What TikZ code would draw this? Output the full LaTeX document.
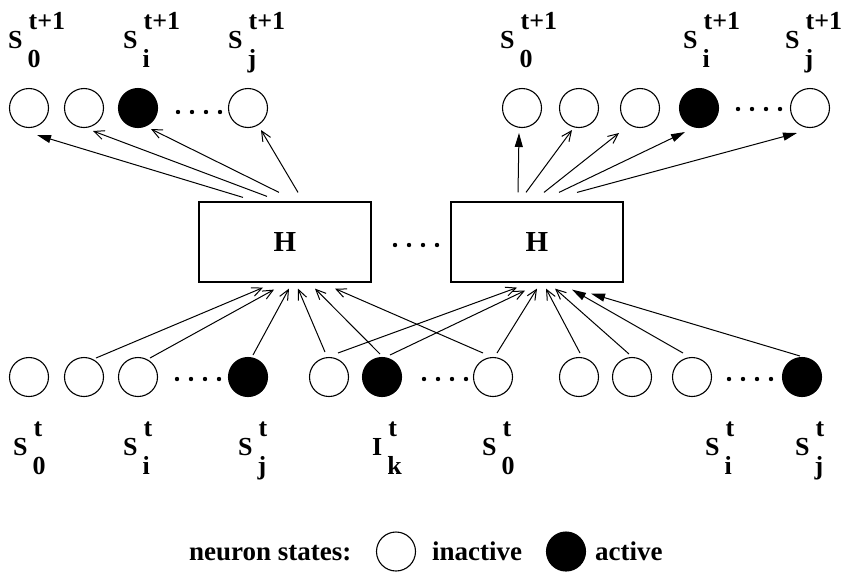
\documentclass[tikz,border=0pt]{standalone}
\usepackage{fontspec}
\setmainfont{Liberation Serif}
\usetikzlibrary{arrows.meta}

\newcommand{\nlab}[3]{#1\kern5pt\rlap{\raisebox{-19pt}{#2}}\kern1pt\raisebox{19pt}{#3}}
\newcommand{\dotrow}[2]{\foreach \k in {0,1,2,3} {\fill (#1+14*\k,#2) circle (2.2pt);}}

\begin{document}
\begin{tikzpicture}[x=1pt,y=-1pt,
  idle/.style={circle,draw,line width=1.1pt,minimum size=39pt,inner sep=0pt},
  fired/.style={idle,fill=black},
  hbox/.style={draw,line width=1.2pt,minimum width=172pt,minimum height=80pt,
    font=\fontsize{29}{32}\selectfont\bfseries},
  lbl/.style={anchor=base west,inner sep=0pt,font=\fontsize{26}{30}\selectfont\bfseries},
  key/.style={lbl,font=\fontsize{27}{30}\selectfont\bfseries},
  barb/.style={-{Straight Barb[length=10pt,width=9pt]},line width=1pt},
  tri/.style={-{Triangle[length=14pt,width=8pt]},line width=1pt}]

\useasboundingbox (0,0) rectangle (843,571);

% Neurons at t+1
\node[idle]  (t1) at (29,108) {};
\node[idle]  (t2) at (84,108) {};
\node[fired] (t3) at (138,108) {};
\node[idle]  (t4) at (248,108) {};
\node[idle]  (u1) at (522,108) {};
\node[idle]  (u2) at (579,108) {};
\node[idle]  (u3) at (640,108) {};
\node[fired] (u4) at (699,108) {};
\node[idle]  (u5) at (810,108) {};
\dotrow{178}{112}
\dotrow{738}{109}

% Update boxes
\node[hbox] (hl) at (285,242) {H};
\node[hbox] (hr) at (537,242) {H};
\dotrow{395}{245}

% Neurons at t
\node[idle]  (b1) at (29,377) {};
\node[idle]  (b2) at (84,377) {};
\node[idle]  (b3) at (138,377) {};
\node[fired] (b4) at (248,377) {};
\node[idle]  (b5) at (329,377) {};
\node[fired] (b6) at (382,377) {};
\node[idle]  (b7) at (493,377) {};
\node[idle]  (b8) at (579,377) {};
\node[idle]  (b9) at (632,377) {};
\node[idle]  (b10) at (692,377) {};
\node[fired] (b11) at (802,377) {};
\dotrow{177}{379}
\dotrow{424}{379}
\dotrow{729}{379}

% Outputs
\draw[tri]  ([shift={(-42,-4)}]hl.north) -- ([shift={(8,27)}]t1.center);
\draw[barb] ([shift={(-18,-5)}]hl.north) -- ([shift={(9,23)}]t2.center);
\draw[barb] ([shift={(-6,-9)}]hl.north) -- ([shift={(13,21)}]t3.center);
\draw[barb] ([shift={(13,-9)}]hl.north) -- ([shift={(13,22)}]t4.center);

\draw[tri]  ([shift={(-19,-9)}]hr.north) -- ([shift={(-3,25)}]u1.center);
\draw[barb] ([shift={(-11,-9)}]hr.north) -- ([shift={(-7,22)}]u2.center);
\draw[barb] ([shift={(7,-9)}]hr.north) -- ([shift={(-21,25)}]u3.center);
\draw[tri]  ([shift={(22,-9)}]hr.north) -- ([shift={(-14,24)}]u4.center);
\draw[tri]  ([shift={(40,-9)}]hr.north) -- ([shift={(-13,25)}]u5.center);

% Inputs
\draw[barb] ([shift={(12,-19)}]b2.center) -- ([shift={(-22,5)}]hl.south);
\draw[barb] ([shift={(12,-19)}]b3.center) -- ([shift={(-11,7)}]hl.south);
\draw[barb] ([shift={(5,-22)}]b4.center) -- ([shift={(4,6)}]hl.south);
\draw[barb] ([shift={(-4,-25)}]b5.center) -- ([shift={(13,6)}]hl.south);
\draw[barb] ([shift={(-2,-23)}]b6.center) -- ([shift={(30,6)}]hl.south);
\draw[barb] ([shift={(-10,-24)}]b7.center) -- ([shift={(50,6)}]hl.south);

\draw[barb] ([shift={(9,-24)}]b5.center) -- ([shift={(-20,5)}]hr.south);
\draw[barb] ([shift={(8,-22)}]b6.center) -- ([shift={(-12,8)}]hr.south);
\draw[barb] ([shift={(4,-24)}]b7.center) -- ([shift={(0,6)}]hr.south);
\draw[barb] ([shift={(1,-24)}]b8.center) -- ([shift={(9,6)}]hr.south);
\draw[barb] ([shift={(-3,-23)}]b9.center) -- ([shift={(18,6)}]hr.south);
\draw[tri]  ([shift={(-9,-24)}]b10.center) -- ([shift={(35,7)}]hr.south);
\draw[tri]  ([shift={(-2,-21)}]b11.center) -- ([shift={(54,11)}]hr.south);

% Labels
\node[lbl] (lt1) at (8,48) {\nlab{S}{0}{t+1}};
\node[lbl] (lt3) at (123,48) {\nlab{S}{i}{t+1}};
\node[lbl] (lt4) at (228,48) {\nlab{S}{j}{t+1}};
\node[lbl] (lu1) at (500,48) {\nlab{S}{0}{t+1}};
\node[lbl] (lu4) at (683,48) {\nlab{S}{i}{t+1}};
\node[lbl] (lu5) at (785,48) {\nlab{S}{j}{t+1}};

\node[lbl] (lb1) at (13,455) {\nlab{S}{0}{t}};
\node[lbl] (lb3) at (123,455) {\nlab{S}{i}{t}};
\node[lbl] (lb4) at (238,455) {\nlab{S}{j}{t}};
\node[lbl] (lb6) at (372,455) {\nlab{I}{k}{t}};
\node[lbl] (lb7) at (482,455) {\nlab{S}{0}{t}};
\node[lbl] (lb10) at (705,455) {\nlab{S}{i}{t}};
\node[lbl] (lb11) at (795,455) {\nlab{S}{j}{t}};

% Legend
\node[key] (keyt) at (189,560) {neuron states:};
\node[idle]  (k1) at (396,551.5) {};
\node[key] (k1t) at (432,560) {inactive};
\node[fired] (k2) at (566,551.5) {};
\node[key] (k2t) at (595,560) {active};

\end{tikzpicture}
\end{document}
